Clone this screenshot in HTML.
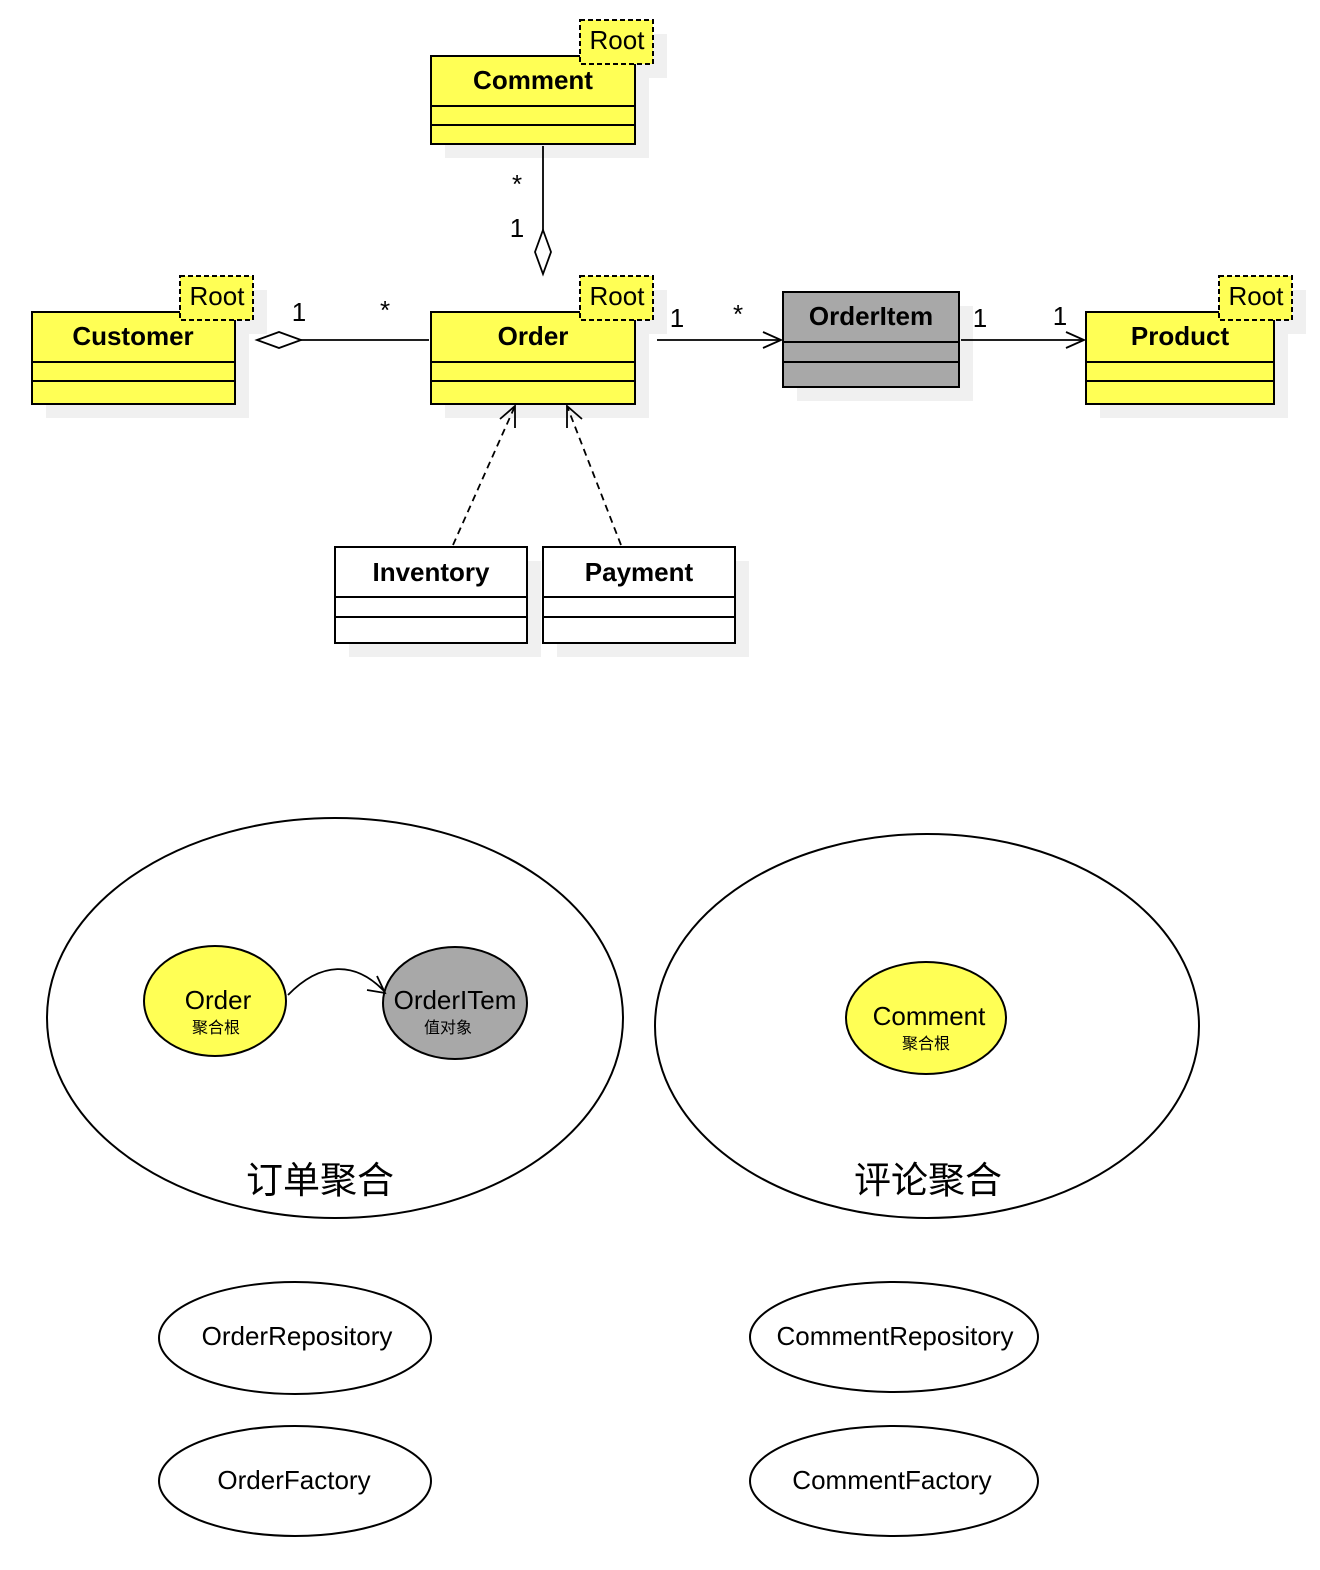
<!DOCTYPE html>
<html><head><meta charset="utf-8"><style>
html,body{margin:0;padding:0;background:#fff;}
svg{display:block;}
text{font-family:"Liberation Sans","Noto Sans CJK SC",sans-serif;}
</style></head><body>
<svg width="1320" height="1570" viewBox="0 0 1320 1570" xmlns="http://www.w3.org/2000/svg">
<g fill="#f0f0f0">
<rect x="445" y="70" width="204" height="88"/><rect x="594" y="34" width="73" height="44"/>
<rect x="46" y="326" width="203" height="92"/><rect x="194" y="290" width="73" height="44"/>
<rect x="445" y="326" width="204" height="92"/><rect x="594" y="290" width="73" height="44"/>
<rect x="797" y="306" width="176" height="95"/>
<rect x="1100" y="326" width="188" height="92"/><rect x="1233" y="290" width="73" height="44"/>
<rect x="349" y="561" width="192" height="96"/><rect x="557" y="561" width="192" height="96"/>
</g>
<g stroke="#000" stroke-width="2">
<rect x="431" y="56" width="204" height="88" fill="#ffff55"/><line x1="431" y1="106" x2="635" y2="106"/><line x1="431" y1="125" x2="635" y2="125"/>
<rect x="580" y="20" width="73" height="44" fill="#ffff55" stroke-dasharray="5,3"/>
<rect x="32" y="312" width="203" height="92" fill="#ffff55"/><line x1="32" y1="362" x2="235" y2="362"/><line x1="32" y1="381" x2="235" y2="381"/>
<rect x="180" y="276" width="73" height="44" fill="#ffff55" stroke-dasharray="5,3"/>
<rect x="431" y="312" width="204" height="92" fill="#ffff55"/><line x1="431" y1="362" x2="635" y2="362"/><line x1="431" y1="381" x2="635" y2="381"/>
<rect x="580" y="276" width="73" height="44" fill="#ffff55" stroke-dasharray="5,3"/>
<rect x="783" y="292" width="176" height="95" fill="#a8a8a8"/><line x1="783" y1="342" x2="959" y2="342"/><line x1="783" y1="362" x2="959" y2="362"/>
<rect x="1086" y="312" width="188" height="92" fill="#ffff55"/><line x1="1086" y1="362" x2="1274" y2="362"/><line x1="1086" y1="381" x2="1274" y2="381"/>
<rect x="1219" y="276" width="73" height="44" fill="#ffff55" stroke-dasharray="5,3"/>
<rect x="335" y="547" width="192" height="96" fill="#fff"/><line x1="335" y1="597" x2="527" y2="597"/><line x1="335" y1="617" x2="527" y2="617"/>
<rect x="543" y="547" width="192" height="96" fill="#fff"/><line x1="543" y1="597" x2="735" y2="597"/><line x1="543" y1="617" x2="735" y2="617"/>
</g>
<g stroke="#000" stroke-width="1.8" fill="none">
<line x1="543" y1="146" x2="543" y2="230"/>
<path d="M543 230 L551 252 L543 274 L535 252 Z" fill="#fff"/>
<line x1="301" y1="340" x2="429" y2="340"/>
<path d="M257 340 L279 332 L301 340 L279 348 Z" fill="#fff"/>
<line x1="657" y1="340" x2="781" y2="340"/><path d="M763 332 L781 340 L763 348"/>
<line x1="961" y1="340" x2="1084" y2="340"/><path d="M1066 332 L1084 340 L1066 348"/>
<line x1="453" y1="545" x2="515" y2="406" stroke-dasharray="7,5"/><path d="M500 419 L515 406 L515 428"/>
<line x1="621" y1="545" x2="567" y2="406" stroke-dasharray="7,5"/><path d="M567 428 L567 406 L582 419"/>
</g>
<g font-size="26" text-anchor="middle">
<text x="617" y="49">Root</text><text x="217" y="305">Root</text><text x="617" y="305">Root</text><text x="1256" y="305">Root</text>
<text x="517" y="193">*</text><text x="517" y="237">1</text>
<text x="299" y="321">1</text><text x="385" y="319">*</text>
<text x="677" y="327">1</text><text x="738" y="323">*</text>
<text x="980" y="327">1</text><text x="1060" y="325">1</text>
</g>
<g font-size="26" font-weight="bold" text-anchor="middle">
<text x="533" y="89">Comment</text><text x="133" y="345">Customer</text><text x="533" y="345">Order</text>
<text x="871" y="325">OrderItem</text><text x="1180" y="345">Product</text>
<text x="431" y="581">Inventory</text><text x="639" y="581">Payment</text>
</g>
<g stroke="#000" stroke-width="2" fill="none">
<ellipse cx="335" cy="1018" rx="288" ry="200"/>
<ellipse cx="927" cy="1026" rx="272" ry="192"/>
<ellipse cx="215" cy="1001" rx="71" ry="55" fill="#ffff55"/>
<ellipse cx="455" cy="1003" rx="72" ry="56" fill="#a8a8a8"/>
<ellipse cx="926" cy="1018" rx="80" ry="56" fill="#ffff55"/>
<ellipse cx="295" cy="1338" rx="136" ry="56"/>
<ellipse cx="894" cy="1337" rx="144" ry="55"/>
<ellipse cx="295" cy="1481" rx="136" ry="55"/>
<ellipse cx="894" cy="1481" rx="144" ry="55"/>
<path d="M288 995 C320 962 355 960 385 992" stroke-width="1.8"/>
<path d="M367 990 L385 993 L377 976" stroke-width="1.8"/>
</g>
<g text-anchor="middle" fill="#000">
<text x="218" y="1009" font-size="26">Order</text><text x="216" y="1033" font-size="16">聚合根</text>
<text x="455" y="1009" font-size="26">OrderITem</text><text x="448" y="1033" font-size="16">值对象</text>
<text x="929" y="1025" font-size="26">Comment</text><text x="926" y="1049" font-size="16">聚合根</text>
<text x="320" y="1193" font-size="37">订单聚合</text>
<text x="928" y="1193" font-size="37">评论聚合</text>
<text x="297" y="1345" font-size="26">OrderRepository</text>
<text x="895" y="1345" font-size="26">CommentRepository</text>
<text x="294" y="1489" font-size="26">OrderFactory</text>
<text x="892" y="1489" font-size="26">CommentFactory</text>
</g>
</svg>
</body></html>
